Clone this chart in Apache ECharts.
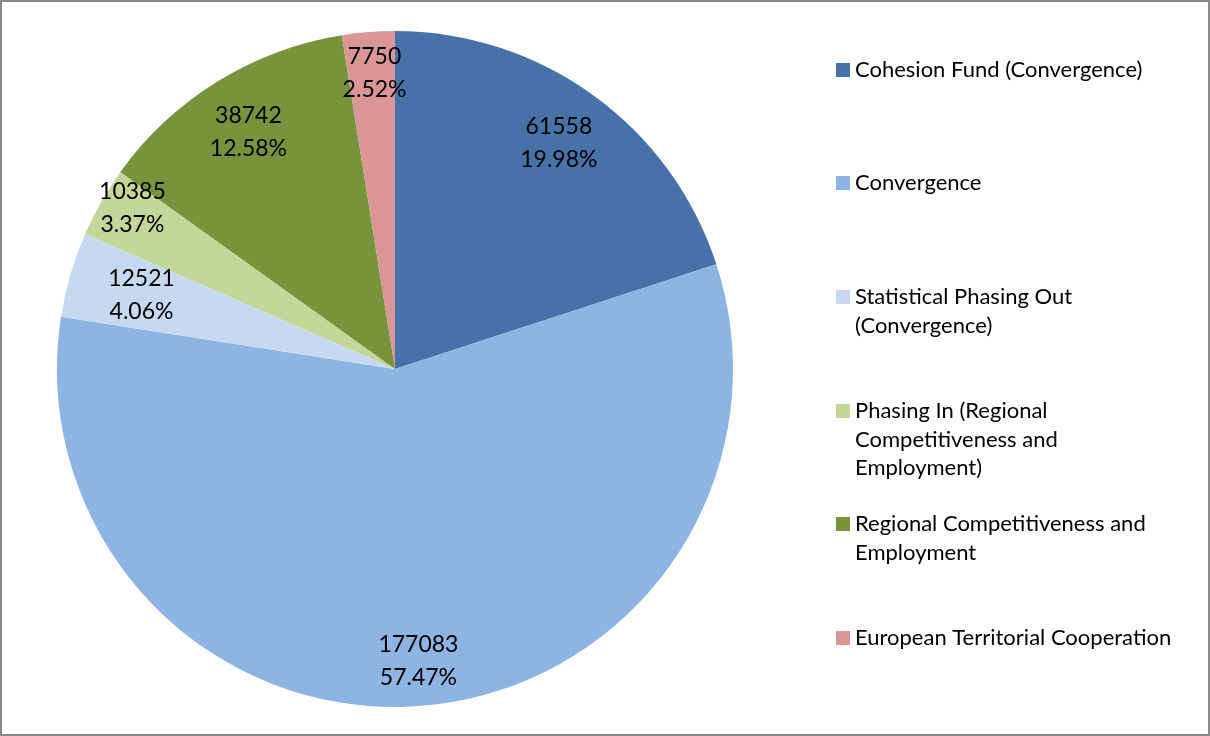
<!DOCTYPE html>
<html>
<head>
<meta charset="utf-8">
<script src="https://cdn.jsdelivr.net/npm/echarts@6/dist/echarts.min.js"></script>
<style>
html,body{margin:0;padding:0;background:#fff;}
#frame{width:1210px;height:736px;box-sizing:border-box;border:2px solid #8a8a8a;position:relative;overflow:hidden;}
#chart{position:absolute;left:-2px;top:-2px;width:1210px;height:736px;}
</style>
</head>
<body>
<div id="frame"><div id="chart"></div></div>
<script>
var categories = [
  'Cohesion Fund (Convergence)',
  'Convergence',
  'Statistical Phasing Out (Convergence)',
  'Phasing In (Regional Competitiveness and Employment)',
  'Regional Competitiveness and Employment',
  'European Territorial Cooperation'
];
var legendLines = [
  ['Cohesion Fund (Convergence)'],
  ['Convergence'],
  ['Statistical Phasing Out', '(Convergence)'],
  ['Phasing In (Regional', 'Competitiveness and', 'Employment)'],
  ['Regional Competitiveness and', 'Employment'],
  ['European Territorial Cooperation']
];
var values = [61558, 177083, 12521, 10385, 38742, 7750];
var percentLabels = ['19.98%', '57.47%', '4.06%', '3.37%', '12.58%', '2.52%'];

// styling (not data)
var colors = ['#4672A7', '#8EB4E3', '#C6D9F0', '#C4D79B', '#77933C', '#D99694'];
var legendFirstLineY = [69, 182, 296, 410, 523, 637];
var legendLineStep = 28.5;
var labelRadius = [276, 290, 261, 322, 276, 294];
var labelPadLeft = [0, 0, 0, 40, 0, 6];

var FONT = 'Lato';
var CENTER = [395, 369];
var data = categories.map(function (c, i) {
  return { name: c, value: values[i], itemStyle: { color: colors[i] } };
});

var legends = [];
categories.forEach(function (c, i) {
  legendLines[i].forEach(function (line, j) {
    legends.push({
      orient: 'vertical',
      left: 831,
      top: Math.round(legendFirstLineY[i] + j * legendLineStep - 18),
      itemWidth: 14,
      itemHeight: 14,
      itemGap: 0,
      icon: 'rect',
      selectedMode: false,
      data: [c],
      formatter: (function (t) { return function () { return t; }; })(line),
      itemStyle: j === 0 ? {} : { color: 'rgba(0,0,0,0)', opacity: 0 },
      textStyle: {
        fontFamily: FONT,
        fontSize: 22,
        color: '#000',
        lineHeight: 28
      }
    });
  });
});

var series = [{
  type: 'pie',
  center: CENTER,
  radius: [0, 338],
  startAngle: 90,
  clockwise: true,
  data: data,
  label: { show: false },
  labelLine: { show: false },
  emphasis: { disabled: true },
  silent: true
}];

// one transparent label layer per slice, so each label sits at its own distance from the centre
categories.forEach(function (c, k) {
  series.push({
    type: 'pie',
    center: CENTER,
    radius: [labelRadius[k] - 20, labelRadius[k] + 20],
    startAngle: 90,
    clockwise: true,
    data: categories.map(function (n, i) {
      return { name: n, value: values[i], label: { show: i === k } };
    }),
    itemStyle: { color: 'rgba(0,0,0,0)', borderWidth: 0 },
    label: {
      position: 'inside',
      fontFamily: FONT,
      fontSize: 23,
      lineHeight: 33,
      color: '#000',
      padding: [0, 0, 0, labelPadLeft[k]],
      formatter: function (p) {
        return p.value + '\n' + percentLabels[p.dataIndex];
      }
    },
    labelLine: { show: false },
    emphasis: { disabled: true },
    silent: true,
    z: 3
  });
});

var chart = echarts.init(document.getElementById('chart'), null, { renderer: 'canvas' });
chart.setOption({
  animation: false,
  backgroundColor: 'rgba(0,0,0,0)',
  legend: legends,
  series: series
});
</script>
</body>
</html>
